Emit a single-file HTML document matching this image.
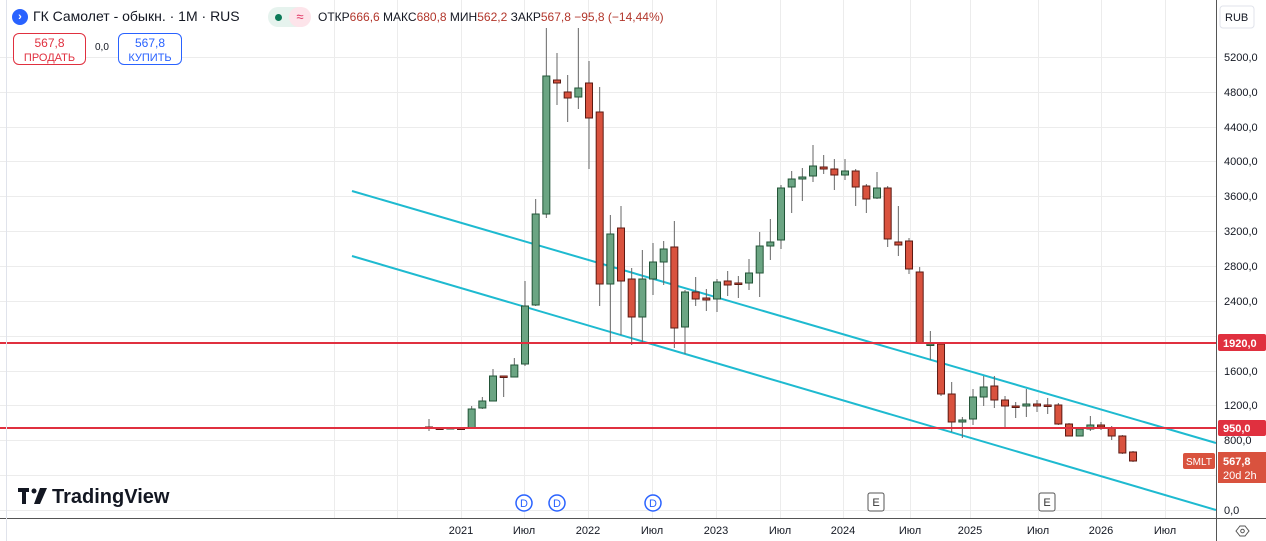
<!DOCTYPE html>
<html><head><meta charset="utf-8"><style>
body{margin:0;width:1266px;height:541px;overflow:hidden;background:#fff;font-family:"Liberation Sans",sans-serif;}
svg{position:absolute;left:0;top:0}
.t{font-family:"Liberation Sans",sans-serif;font-size:11px;fill:#131722}
</style></head><body>
<svg width="1266" height="541" xmlns="http://www.w3.org/2000/svg" id="s">
<rect width="1266" height="541" fill="#fff"/>
<g id="grid" stroke="#ececec" stroke-width="1"></g>
<line x1="352" y1="191" x2="1216" y2="443" stroke="#1ebad0" stroke-width="2"/>
<line x1="352" y1="256" x2="1216" y2="510" stroke="#1ebad0" stroke-width="2"/>
<g id="c"></g>
<line x1="0" y1="343" x2="1216" y2="343" stroke="#e0303f" stroke-width="2"/>
<line x1="0" y1="428" x2="1216" y2="428" stroke="#e0303f" stroke-width="2"/>
<line x1="1216.5" y1="0" x2="1216.5" y2="541" stroke="#555" stroke-width="1"/>
<line x1="0" y1="518.5" x2="1266" y2="518.5" stroke="#555" stroke-width="1"/>
<line x1="6.5" y1="0" x2="6.5" y2="541" stroke="#e0e3eb"/>
<g class="t" text-anchor="start">
<text x="1224" y="61">5200,0</text><text x="1224" y="96">4800,0</text><text x="1224" y="131">4400,0</text>
<text x="1224" y="165">4000,0</text><text x="1224" y="200">3600,0</text><text x="1224" y="235">3200,0</text>
<text x="1224" y="270">2800,0</text><text x="1224" y="305">2400,0</text><text x="1224" y="375">1600,0</text>
<text x="1224" y="409">1200,0</text><text x="1224" y="444">800,0</text><text x="1224" y="514">0,0</text>
</g>
<rect x="1218" y="334" width="48" height="17" fill="#e0303f" rx="2"/>
<text x="1223" y="347" font-size="11" fill="#fff" font-weight="bold" font-family="Liberation Sans">1920,0</text>
<rect x="1218" y="420" width="48" height="16" fill="#e0303f" rx="2"/>
<text x="1223" y="432" font-size="11" fill="#fff" font-weight="bold" font-family="Liberation Sans">950,0</text>
<rect x="1183" y="453" width="32" height="16" fill="#d9523e" rx="2"/>
<text x="1186" y="465" font-size="10" fill="#fff" font-family="Liberation Sans">SMLT</text>
<rect x="1218" y="452" width="48" height="31" fill="#d9523e"/>
<text x="1223" y="465" font-size="11" fill="#fff" font-weight="bold" font-family="Liberation Sans">567,8</text>
<text x="1223" y="479" font-size="11" fill="#fff" font-family="Liberation Sans">20d 2h</text>
<rect x="1220" y="6" width="34" height="22" fill="#fff" stroke="#e0e3eb" rx="3"/>
<text x="1225" y="21" class="t">RUB</text>
<g class="t" text-anchor="middle" fill="#333">
<text x="461" y="534">2021</text><text x="524" y="534">Июл</text><text x="588" y="534">2022</text>
<text x="652" y="534">Июл</text><text x="716" y="534">2023</text><text x="780" y="534">Июл</text>
<text x="843" y="534">2024</text><text x="910" y="534">Июл</text><text x="970" y="534">2025</text>
<text x="1038" y="534">Июл</text><text x="1101" y="534">2026</text><text x="1165" y="534">Июл</text>
</g>
<g stroke="#555" fill="none"><path d="M1236 531 l4 -5 h5 l4 5 l-4 5 h-5z"/><circle cx="1242.5" cy="531" r="1.8"/></g>
<g fill="#fff" stroke="#2962ff" stroke-width="1.5">
<circle cx="524" cy="503" r="8"/><circle cx="557" cy="503" r="8"/><circle cx="653" cy="503" r="8"/></g>
<g font-size="11" fill="#2962ff" text-anchor="middle" font-family="Liberation Sans"><text x="524" y="507">D</text><text x="557" y="507">D</text><text x="653" y="507">D</text></g>
<g fill="#fff" stroke="#555"><rect x="868" y="493" width="16" height="18" rx="2"/><rect x="1039" y="493" width="16" height="18" rx="2"/></g>
<g font-size="11" fill="#333" text-anchor="middle" font-family="Liberation Sans"><text x="876" y="506">E</text><text x="1047" y="506">E</text></g>
<g fill="#131722"><rect x="18" y="488" width="11" height="4"/><rect x="22" y="488" width="4" height="16"/><circle cx="34" cy="491" r="2.5"/><path d="M40 488 h7 l-7 16 h-6z"/></g>
<text x="52" y="503" font-size="20" font-weight="bold" fill="#131722" font-family="Liberation Sans">TradingView</text>
</svg>
<div style="position:absolute;left:0;top:0;width:1216px;height:34px">
<div style="position:absolute;left:12px;top:9px;width:16px;height:16px;border-radius:50%;background:#2962ff;color:#fff;font-size:11px;line-height:16px;text-align:center;font-weight:bold">›</div>
<div style="position:absolute;left:33px;top:8px;font-size:14px;color:#131722;white-space:nowrap">ГК Самолет - обыкн. · 1М · RUS</div>
<div style="position:absolute;left:268px;top:7px;width:42px;height:20px;border-radius:10px;background:#e6f3ee"></div>
<div style="position:absolute;left:275px;top:14px;width:7px;height:7px;border-radius:50%;background:#0b7a58"></div>
<div style="position:absolute;left:289px;top:7px;width:22px;height:20px;border-radius:10px;background:#fde4ea;color:#e0305f;font-size:13px;text-align:center;line-height:20px">≈</div>
<div style="position:absolute;left:318px;top:10px;font-size:12px;color:#131722;white-space:nowrap">ОТКР<span style="color:#b2362b">666,6</span> МАКС<span style="color:#b2362b">680,8</span> МИН<span style="color:#b2362b">562,2</span> ЗАКР<span style="color:#b2362b">567,8</span> <span style="color:#b2362b">−95,8 (−14,44%)</span></div>
</div>
<div style="position:absolute;left:13px;top:33px;width:73px;height:32px;border:1px solid #e0303f;border-radius:6px;background:#fff;text-align:center;color:#e0303f;font-size:12px;line-height:14px;padding-top:2px;box-sizing:border-box">567,8<br><span style="font-size:11px">ПРОДАТЬ</span></div>
<div style="position:absolute;left:95px;top:42px;font-size:10px;color:#131722">0,0</div>
<div style="position:absolute;left:118px;top:33px;width:64px;height:32px;border:1px solid #2962ff;border-radius:6px;background:#fff;text-align:center;color:#2962ff;font-size:12px;line-height:14px;padding-top:2px;box-sizing:border-box">567,8<br><span style="font-size:11px">КУПИТЬ</span></div>
<script>
var NS="http://www.w3.org/2000/svg";
var g=document.getElementById("grid");
function ln(x1,y1,x2,y2){var l=document.createElementNS(NS,"line");l.setAttribute("x1",x1);l.setAttribute("y1",y1);l.setAttribute("x2",x2);l.setAttribute("y2",y2);g.appendChild(l);}
[57,92,127,161,196,231,266,301,336,371,405,440,475,510].forEach(function(y){ln(0,y+.5,1216,y+.5);});
[334,397,461,524,588,652,716,780,843,910,970,1038,1101,1165].forEach(function(x){ln(x+.5,0,x+.5,518);});
// o,c,h,l in y-pixels
var d=[[427,428,419,431],[428,428,428,428],[428.5,427.5,427,429],[428,428,428,428],[428,409,406,428],[408,401,397,409],[401,376,369,401],[376,377,376,397],[377,365,358,377],[364,306,281,366],[305,214,199,306],[214,76,28,218],[80,83,53,105],[92,98,75,122],[97,88,28,109],[83,118,61,169],[112,284,87,306],[284,234,215,344],[228,281,206,335],[279,317,268,345],[317,279,250,342],[279,262,243,295],[262,249,241,285],[247,328,221,348],[327,292,290,354],[292,299,277,306],[298,300,289,311],[299,282,279,312],[281,285,271,296],[283,283.5,276,298],[283,273,259,290],[273,246,232,297],[246,242,219,260],[240,188,185,249],[187,179,171,213],[179,177,168,201],[176,166,145,182],[167,169,155,174],[169,175,159,190],[175,171,159,180],[171,187,169,206],[186,199,184,213],[198,188,172,199],[188,239,186,247],[242,245,206,256],[241,269,238,274],[272,343,267,343],[345,344,331,360],[344,394,342,396],[394,422,382,432],[422,420,417,438],[419,397,389,425],[397,387,376,406],[386,400,376,408],[400,406,396,427],[406,406.5,402,418],[406,404,389,417],[404,406,400,412],[405,405.5,398,414],[405,424,403,425],[424,436,423,436],[436,429,429,436],[429,425,416,431],[425,427,422,430],[428,436,426,440],[436,453,435,454],[452,461,451,462]];
var c=document.getElementById("c");
d.forEach(function(k,i){var x=429+i*10.667;var up=k[1]<k[0];var fill=up?"#6ba583":"#d9523e",st=up?"#225437":"#5b1a13";
var w=document.createElementNS(NS,"line");w.setAttribute("x1",x);w.setAttribute("x2",x);w.setAttribute("y1",k[2]);w.setAttribute("y2",k[3]);w.setAttribute("stroke","#666");c.appendChild(w);
var t=Math.min(k[0],k[1]),h=Math.max(Math.abs(k[0]-k[1]),1.5);var r=document.createElementNS(NS,"rect");r.setAttribute("x",x-3.5);r.setAttribute("y",t);r.setAttribute("width",7);r.setAttribute("height",h);r.setAttribute("fill",fill);r.setAttribute("stroke",st);r.setAttribute("stroke-width",1);c.appendChild(r);});
</script>
</body></html>
